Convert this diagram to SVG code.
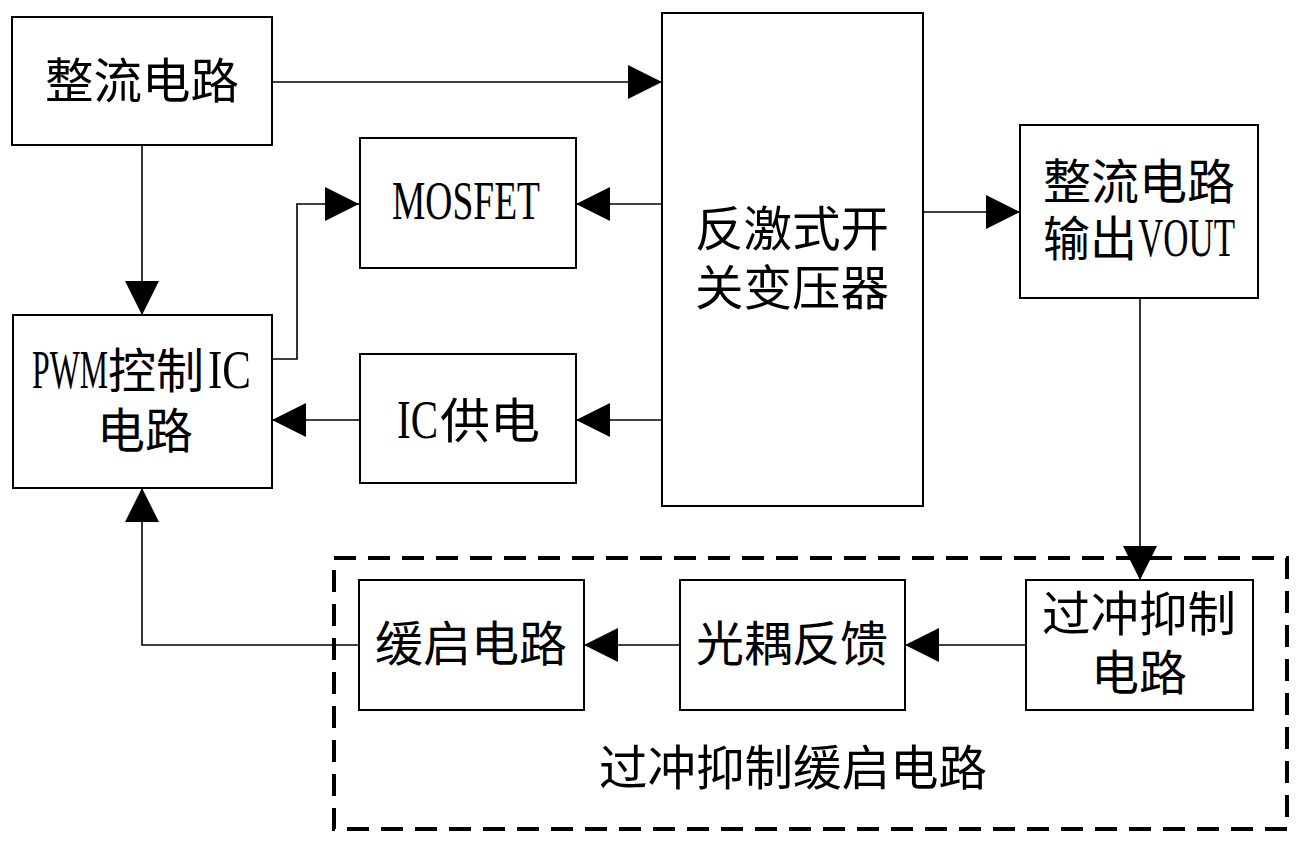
<svg xmlns="http://www.w3.org/2000/svg" width="1302" height="848" viewBox="0 0 1302 848">
<style>
.box{fill:#fff;stroke:#000;stroke-width:2}
.cn{font-family:"Noto Sans CJK SC","Noto Sans CJK TC",sans-serif;font-size:48px;fill:#000}
.lt{font-family:"Liberation Serif",serif;font-size:54px;fill:#000}
.wire{fill:none;stroke:#000;stroke-width:1.6}
.dash{fill:none;stroke:#000;stroke-width:4;stroke-dasharray:22 12}
</style>
<defs>
<marker id="ah" markerUnits="userSpaceOnUse" markerWidth="34" markerHeight="34" refX="34" refY="17" orient="auto" viewBox="0 0 34 34">
<path d="M0,0 L34,17 L0,34 z" fill="#000"/>
</marker>
</defs>
<rect width="1302" height="848" fill="#fff"/>
<g id="group-dashed">
<rect class="dash" x="334" y="558" width="953" height="271"/>
<text class="cn" x="793" y="785" text-anchor="middle" textLength="388" lengthAdjust="spacingAndGlyphs">过冲抑制缓启电路</text>
</g>
<g id="connectors">
<path class="wire" d="M272,82 H662" marker-end="url(#ah)"/>
<path class="wire" d="M142,145 V315" marker-end="url(#ah)"/>
<path class="wire" d="M272,359 H297 V204 H359" marker-end="url(#ah)"/>
<path class="wire" d="M662,204 H576" marker-end="url(#ah)"/>
<path class="wire" d="M662,420 H576" marker-end="url(#ah)"/>
<path class="wire" d="M359,420 H272" marker-end="url(#ah)"/>
<path class="wire" d="M923,212 H1020" marker-end="url(#ah)"/>
<path class="wire" d="M1140,298 V580" marker-end="url(#ah)"/>
<path class="wire" d="M1026,645 H905" marker-end="url(#ah)"/>
<path class="wire" d="M680,645 H584" marker-end="url(#ah)"/>
<path class="wire" d="M359,645 H142 V488" marker-end="url(#ah)"/>
</g>
<g id="rect-in">
<rect class="box" x="12" y="17" width="260" height="128"/>
<text class="cn" x="142" y="98" text-anchor="middle" textLength="194" lengthAdjust="spacingAndGlyphs">整流电路</text>
</g>
<g id="mosfet">
<rect class="box" x="360" y="138" width="216" height="130"/>
<text class="lt" x="392" y="219" textLength="148" lengthAdjust="spacingAndGlyphs">MOSFET</text>
</g>
<g id="pwm">
<rect class="box" x="13" y="315" width="259" height="173"/>
<text class="lt" x="32" y="388" textLength="76" lengthAdjust="spacingAndGlyphs">PWM</text>
<text class="cn" x="108" y="388" textLength="96" lengthAdjust="spacingAndGlyphs">控制</text>
<text class="lt" x="208" y="388" textLength="43" lengthAdjust="spacingAndGlyphs">IC</text>
<text class="cn" x="145" y="448" text-anchor="middle" textLength="96" lengthAdjust="spacingAndGlyphs">电路</text>
</g>
<g id="ic-power">
<rect class="box" x="360" y="354" width="216" height="129"/>
<text class="lt" x="397" y="438" textLength="41" lengthAdjust="spacingAndGlyphs">IC</text>
<text class="cn" x="440" y="438" textLength="100" lengthAdjust="spacingAndGlyphs">供电</text>
</g>
<g id="transformer">
<rect class="box" x="662" y="13" width="261" height="493"/>
<text class="cn" x="792" y="246" text-anchor="middle" textLength="194" lengthAdjust="spacingAndGlyphs">反激式开</text>
<text class="cn" x="792" y="305" text-anchor="middle" textLength="194" lengthAdjust="spacingAndGlyphs">关变压器</text>
</g>
<g id="rect-out">
<rect class="box" x="1020" y="125" width="238" height="173"/>
<text class="cn" x="1043" y="199" textLength="192" lengthAdjust="spacingAndGlyphs">整流电路</text>
<text class="cn" x="1043" y="256" textLength="94" lengthAdjust="spacingAndGlyphs">输出</text>
<text class="lt" x="1138" y="256" textLength="97" lengthAdjust="spacingAndGlyphs">VOUT</text>
</g>
<g id="soft-start">
<rect class="box" x="359" y="580" width="225" height="130"/>
<text class="cn" x="471" y="661" text-anchor="middle" textLength="192" lengthAdjust="spacingAndGlyphs">缓启电路</text>
</g>
<g id="optocoupler">
<rect class="box" x="680" y="580" width="225" height="130"/>
<text class="cn" x="792" y="661" text-anchor="middle" textLength="192" lengthAdjust="spacingAndGlyphs">光耦反馈</text>
</g>
<g id="overshoot">
<rect class="box" x="1026" y="580" width="227" height="130"/>
<text class="cn" x="1139" y="631" text-anchor="middle" textLength="194" lengthAdjust="spacingAndGlyphs">过冲抑制</text>
<text class="cn" x="1139" y="690" text-anchor="middle" textLength="96" lengthAdjust="spacingAndGlyphs">电路</text>
</g>
</svg>
